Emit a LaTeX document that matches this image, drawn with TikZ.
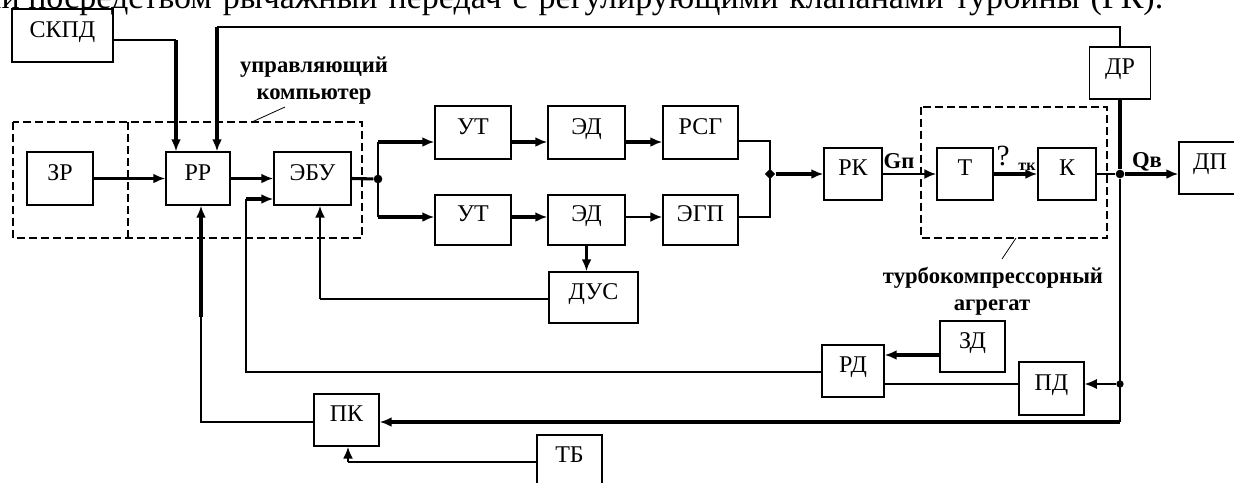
\documentclass[tikz,border=0pt]{standalone}
\usepackage{fontspec}
\setmainfont{Liberation Serif}
\usetikzlibrary{arrows.meta,calc,shapes.geometric}
\begin{document}
\begin{tikzpicture}[x=0.75pt,y=-0.75pt,
  box/.style={draw,line width=1.1pt,inner sep=0pt,text height=0.7em,text depth=0.45em,
    font=\fontsize{18}{21}\selectfont},
  sz/.style 2 args={minimum width=#1*0.75pt,minimum height=#2*0.75pt},
  thn/.style={line width=0.9pt},
  med/.style={line width=1.6pt},
  thk/.style={line width=2.3pt},
  arr/.style={-{Latex[length=9pt,width=7.5pt]}},
  grp/.style={draw,line width=2.2pt,dash pattern=on 6pt off 3pt},
  dot/.style={circle,fill,inner sep=0pt,minimum size=6.5pt},
  lbl/.style={font=\bfseries\fontsize{17}{20}\selectfont,anchor=base,inner sep=0pt},
  body/.style={inner sep=0pt,font=\fontsize{25.5}{28}\selectfont},
]
\useasboundingbox (0,0) rectangle (1234,482);

% running text of the page above the scheme
\node[body,anchor=base east] (toptext0) at (20,8.5) {ли};
\node[body,anchor=base west] (toptext) at (28,8.5)
  {\makebox[851.25pt][s]{посредством рычажный передач с регулирующими клапанами турбины (РК).}};

% dashed groups
\draw[grp] (13,122) rectangle (362,238);
\draw[grp] (128,122) -- (128,238);
\draw[grp] (921,107) rectangle (1107,238);

% blocks
\node[box,sz={101}{53}] (skpd) at (62.5,35.5) {СКПД};
\node[box,sz={66}{53}] (zr) at (60,178.5) {ЗР};
\node[box,sz={64}{53}] (pr) at (198,178.5) {РР};
\node[box,sz={77}{53}] (ebu) at (312.5,178.5) {ЭБУ};
\node[box,sz={76}{53}] (ut1) at (473,132.5) {УТ};
\node[box,sz={77}{53}] (ed1) at (586.5,132.5) {ЭД};
\node[box,sz={75}{53}] (rsg) at (700.5,132.5) {РСГ};
\node[box,sz={76}{50}] (ut2) at (473,220) {УТ};
\node[box,sz={77}{50}] (ed2) at (586.5,220) {ЭД};
\node[box,sz={75}{50}] (egp) at (700.5,220) {ЭГП};
\node[box,sz={89}{51}] (dus) at (593.5,297.5) {ДУС};
\node[box,sz={58}{52}] (rk) at (853,174) {РК};
\node[box,sz={56}{52}] (t) at (965,174) {Т};
\node[box,sz={58}{52}] (k) at (1067,174) {К};
\node[box,sz={61}{52}] (dr) at (1120,73) {ДР};
\node[box,sz={62}{52}] (dp) at (1210,168) {ДП};
\node[box,sz={65}{51}] (zd) at (972.5,346.5) {ЗД};
\node[box,sz={62}{52}] (rd) at (853,371) {РД};
\node[box,sz={65}{53}] (pd) at (1051.5,388.5) {ПД};
\node[box,sz={65}{52}] (pk) at (346.5,420) {ПК};
\node[box,sz={65}{52}] (tb) at (569.5,461) {ТБ};

% junctions
\node[dot] (j1) at (378,179) {};
\node[diamond,fill,inner sep=0pt,minimum size=8pt] (j2) at (770,174) {};
\node[dot] (j3) at (1120,174) {};
\node[dot,minimum size=5.5pt] (j4) at (1120,384) {};

% bend points
\coordinate (c1) at (176,40);
\coordinate (c2) at (217,27);
\coordinate (b1) at (378,142);
\coordinate (b2) at (378,217);
\coordinate (m1) at (770,141);
\coordinate (m2) at (770,217);
\coordinate (c3) at (1120,422);
\coordinate (c4) at (201,422);
\coordinate (c5) at (201,317);
\coordinate (c6) at (348,462);
\coordinate (y355) at (0,355);
\coordinate (y384) at (0,384);
\coordinate (c7) at (246,372);
\coordinate (c8) at (246,199);
\coordinate (c9) at (320,299);

% setpoint inputs of РР
\draw[thn] ($(skpd.east)+(0,4.5)$) -- (c1);
\draw[thk,arr] (c1) -- (pr.north -| c1);
\draw[thn] (dr.north) |- (c2);
\draw[thk,arr] (c2) -- (pr.north -| c2);
\draw[thk,arr] (zr.east) -- (pr.west);
\draw[thk,arr] (pr.east) -- (ebu.west);

% two actuator channels
\draw[thk] (ebu.east) -- (j1);
\draw[thn] (b1) -- (b2);
\draw[thk,arr] (b1) -- (ut1.west |- b1);
\draw[thk,arr] (b2) -- (ut2.west |- b2);
\draw[thk,arr] (ut1.east |- b1) -- (ed1.west |- b1);
\draw[line width=2.8pt,arr] (ed1.east |- b1) -- (rsg.west |- b1);
\draw[thk,arr] (ut2.east |- b2) -- (ed2.west |- b2);
\draw[med,arr] (ed2.east |- b2) -- (egp.west |- b2);
\draw[thn] (rsg.east |- m1) -- (m1) -- (m2) -- (egp.east |- m2);
\draw[thk,arr] (ed2.south) -- (dus.north -| ed2.south);

% turbocompressor line
\draw[thk,arr] (j2) -- (rk.west);
\draw[med,arr] (rk.east) -- (t.west);
\draw[thk,arr] (t.east) -- (k.west);
\draw[med] (k.east) -- (j3);
\draw[thk,arr] (j3) -- (dp.west |- j3);
\draw[thk] (dr.south) -- (j3);

% feedback loops
\draw[thn] (j3) -- (c3);
\draw[thn,arr] (j4) -- (pd.east |- j4);
\draw[thk,arr] (c3) -- (pk.east |- c3);
\draw[thn] (pk.west |- c4) -- (c4) -- (c5);
\draw[thk,arr] (c5) -- (pr.south -| c5);
\draw[thn] (tb.west |- c6) -- (c6);
\draw[med,arr] (c6) -- (pk.south -| c6);
\draw[thk,arr] (zd.west |- y355) -- (rd.east |- y355);
\draw[thn] (pd.west |- y384) -- (rd.east |- y384);
\draw[thn] (rd.west |- c7) -- (c7) -- (c8);
\draw[thk,arr] (c8) -- (ebu.west |- c8);
\draw[thn] (dus.west |- c9) -- (c9);
\draw[med,arr] (c9) -- (ebu.south -| c9);

% captions
\node[lbl] (l1) at (314,72) {управляющий};
\node[lbl] (l2) at (314,99) {компьютер};
\draw[line width=0.6pt] (285,107) -- (252,122);
\node[lbl] (l3) at (993,283) {турбокомпрессорный};
\node[lbl] (l4) at (992,310) {агрегат};
\draw[line width=0.6pt] (1016,238) -- (1002,259);
\node[lbl] (gp) at (899,168) {Gп};
\node[lbl] (qv) at (1147,167) {Qв};
\node[anchor=base,inner sep=0pt,font=\fontsize{22}{24}\selectfont] (om) at (1003,165) {?};
\node[anchor=base,inner sep=0pt,font=\bfseries\fontsize{12}{14}\selectfont] (tk) at (1027,170) {тк};
\end{tikzpicture}
\end{document}
